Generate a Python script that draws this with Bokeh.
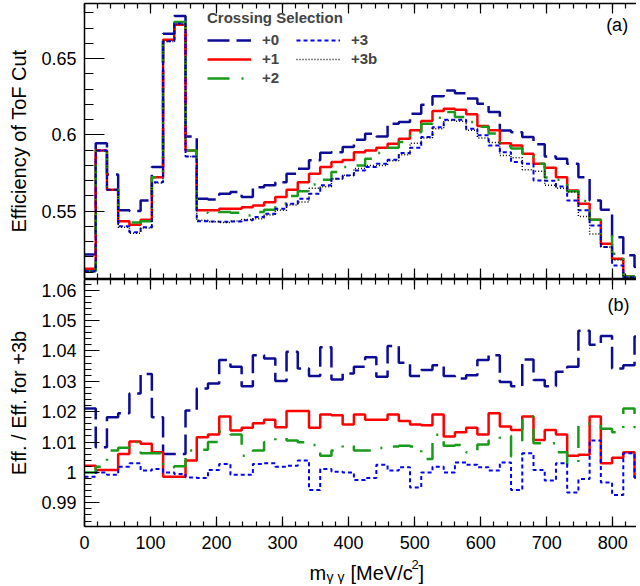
from bokeh.plotting import figure
from bokeh.models import (Range1d, FixedTicker, CustomJSTickFormatter, Legend,
                          LegendItem, Label, LinearAxis)
from bokeh.layouts import column
from bokeh.embed import file_html
from bokeh.resources import INLINE

# ---------------- data ----------------
BIN_WIDTH = 17          # MeV/c^2
N_BINS = 50
bin_edges = [BIN_WIDTH * i for i in range(N_BINS + 1)]

series_names = ["+0", "+1", "+2", "+3", "+3b"]

eff_p0 = [0.5216, 0.5946, 0.5741, 0.5505, 0.5500, 0.5570, 0.5789, 0.6664, 0.6780, 0.5990,
          0.5581, 0.5577, 0.5614, 0.5625, 0.5592, 0.5657, 0.5669, 0.5690, 0.5745, 0.5778,
          0.5833, 0.5883, 0.5887, 0.5920, 0.5968, 0.6008, 0.5990, 0.6073, 0.6084, 0.6139,
          0.6198, 0.6253, 0.6292, 0.6274, 0.6238, 0.6205, 0.6150, 0.6029, 0.6018, 0.5986,
          0.5938, 0.5859, 0.5844, 0.5811, 0.5723, 0.5570, 0.5509, 0.5329, 0.5210, 0.5133]
eff_p1 = [0.5122, 0.5898, 0.5640, 0.5434, 0.5411, 0.5444, 0.5723, 0.6625, 0.6723, 0.5898,
          0.5505, 0.5505, 0.5516, 0.5516, 0.5526, 0.5537, 0.5559, 0.5592, 0.5640, 0.5690,
          0.5745, 0.5790, 0.5822, 0.5835, 0.5887, 0.5898, 0.5916, 0.5942, 0.5975, 0.6030,
          0.6091, 0.6156, 0.6172, 0.6165, 0.6135, 0.6058, 0.6030, 0.5946, 0.5931, 0.5877,
          0.5811, 0.5785, 0.5723, 0.5636, 0.5549, 0.5444, 0.5286, 0.5188, 0.5071, 0.5050]
eff_p2 = [0.5106, 0.5898, 0.5640, 0.5428, 0.5425, 0.5434, 0.5723, 0.6615, 0.6740, 0.5898,
          0.5490, 0.5483, 0.5494, 0.5490, 0.5472, 0.5494, 0.5509, 0.5550, 0.5600, 0.5630,
          0.5675, 0.5706, 0.5756, 0.5789, 0.5800, 0.5844, 0.5881, 0.5916, 0.5953, 0.6018,
          0.6073, 0.6113, 0.6150, 0.6117, 0.6084, 0.6054, 0.6010, 0.5925, 0.5910, 0.5877,
          0.5811, 0.5720, 0.5706, 0.5630, 0.5566, 0.5444, 0.5352, 0.5220, 0.5071, 0.5060]
eff_p3 = [0.5106, 0.5898, 0.5640, 0.5400, 0.5362, 0.5395, 0.5690, 0.6615, 0.6730, 0.5859,
          0.5434, 0.5432, 0.5430, 0.5432, 0.5440, 0.5461, 0.5483, 0.5516, 0.5549, 0.5581,
          0.5614, 0.5669, 0.5713, 0.5734, 0.5767, 0.5789, 0.5811, 0.5837, 0.5881, 0.5916,
          0.5986, 0.6051, 0.6100, 0.6100, 0.6041, 0.5997, 0.5930, 0.5887, 0.5822, 0.5810,
          0.5701, 0.5700, 0.5662, 0.5570, 0.5505, 0.5406, 0.5264, 0.5144, 0.5067, 0.5060]
eff_p3b = [0.5106, 0.5898, 0.5640, 0.5395, 0.5355, 0.5390, 0.5685, 0.6612, 0.6728, 0.5859,
           0.5440, 0.5430, 0.5425, 0.5435, 0.5445, 0.5450, 0.5475, 0.5505, 0.5540, 0.5560,
           0.5650, 0.5660, 0.5710, 0.5735, 0.5780, 0.5800, 0.5800, 0.5830, 0.5870, 0.5945,
           0.5980, 0.6040, 0.6095, 0.6090, 0.6030, 0.5980, 0.5950, 0.5865, 0.5850, 0.5772,
           0.5762, 0.5669, 0.5650, 0.5625, 0.5465, 0.5350, 0.5264, 0.5180, 0.5067, 0.5060]

ratio_p0 = [1.0210, 1.0083, 1.0182, 1.0195, 1.0260, 1.0324, 1.0182, 1.0061, 1.0061, 1.0204,
            1.0276, 1.0293, 1.0370, 1.0348, 1.0284, 1.0386, 1.0375, 1.0301, 1.0397, 1.0342,
            1.0317, 1.0412, 1.0306, 1.0326, 1.0348, 1.0379, 1.0315, 1.0416, 1.0361, 1.0317,
            1.0337, 1.0353, 1.0317, 1.0309, 1.0320, 1.0370, 1.0386, 1.0298, 1.0284, 1.0372,
            1.0304, 1.0284, 1.0331, 1.0348, 1.0466, 1.0420, 1.0449, 1.0342, 1.0353, 1.0447]
ratio_p1 = [1.0022, 1.0008, 1.0008, 1.0061, 1.0102, 1.0094, 1.0066, 0.9986, 0.9986, 1.0039,
            1.0116, 1.0125, 1.0184, 1.0138, 1.0147, 1.0162, 1.0173, 1.0149, 1.0202, 1.0202,
            1.0147, 1.0191, 1.0188, 1.0158, 1.0191, 1.0173, 1.0173, 1.0191, 1.0169, 1.0158,
            1.0155, 1.0191, 1.0118, 1.0132, 1.0147, 1.0125, 1.0195, 1.0151, 1.0140, 1.0184,
            1.0107, 1.0140, 1.0125, 1.0055, 1.0058, 1.0184, 1.0030, 1.0048, 1.0066, 0.9983]
ratio_p2 = [1.0000, 1.0019, 1.0072, 1.0081, 1.0100, 1.0063, 1.0063, 1.0017, 1.0020, 1.0072,
            1.0075, 1.0100, 1.0135, 1.0125, 1.0055, 1.0072, 1.0100, 1.0114, 1.0105, 1.0099,
            1.0090, 1.0055, 1.0072, 1.0090, 1.0072, 1.0072, 1.0080, 1.0085, 1.0088, 1.0085,
            1.0044, 1.0124, 1.0088, 1.0090, 1.0066, 1.0092, 1.0105, 1.0121, 1.0052, 1.0184,
            1.0096, 1.0096, 1.0066, 1.0028, 1.0160, 1.0160, 1.0144, 1.0132, 1.0210, 1.0149]
ratio_p3 = [0.9986, 1.0000, 0.9992, 1.0019, 1.0030, 1.0006, 1.0011, 1.0000, 0.9995, 0.9983,
            0.9982, 1.0008, 1.0028, 0.9992, 0.9992, 1.0028, 1.0030, 1.0019, 1.0022, 1.0039,
            0.9942, 1.0011, 1.0002, 1.0000, 0.9975, 0.9982, 1.0025, 1.0006, 1.0017, 0.9950,
            1.0000, 1.0019, 1.0000, 1.0033, 1.0025, 1.0017, 1.0006, 1.0033, 0.9942, 1.0063,
            1.0008, 0.9973, 1.0030, 0.9934, 0.9978, 1.0105, 0.9967, 0.9926, 1.0063, 0.9983]

x_major_ticks = [0, 100, 200, 300, 400, 500, 600, 700, 800]
top_y_ticks = [0.55, 0.60, 0.65]
bottom_y_ticks = [0.99, 1.00, 1.01, 1.02, 1.03, 1.04, 1.05, 1.06]

# ---------------- styles ----------------
FONT = "Liberation Sans"
FIG_W = 636
LEFT = 84
X_END = 836
styles = {
    "+0":  dict(line_color="#0c0c96", line_width=2.5, line_dash="22 7"),
    "+1":  dict(line_color="#ff0000", line_width=2.5, line_dash="solid"),
    "+2":  dict(line_color="#1a9a1a", line_width=2.5, line_dash="22 12 2 12"),
    "+3":  dict(line_color="#0000ff", line_width=2.0, line_dash="4 3"),
    "+3b": dict(line_color="#000000", line_width=1.5, line_dash="1 2"),
}

fmt = CustomJSTickFormatter(code="return (Math.round(tick*1000)/1000).toString();")
blank_fmt = CustomJSTickFormatter(code="return '';")


def minor_list(lo, hi, step):
    n = int(round((hi - lo) / step))
    return [round(lo + k * step, 6) for k in range(n + 1)]


def frame_top_line(p):
    ax = LinearAxis(ticker=FixedTicker(ticks=[]), formatter=blank_fmt,
                    axis_line_color="black", axis_line_width=1.5,
                    major_tick_line_color=None, minor_tick_line_color=None,
                    major_label_standoff=0, major_label_text_font_size="1px")
    p.add_layout(ax, "above")


def style_axes(p, y_major, y_minor, y_tick_len, show_x_labels):
    p.xaxis.ticker = FixedTicker(ticks=x_major_ticks, minor_ticks=minor_list(0, 820, 20))
    p.yaxis.ticker = FixedTicker(ticks=y_major, minor_ticks=y_minor)
    p.yaxis.formatter = fmt
    for ax in (p.xaxis, p.yaxis):
        ax.axis_line_color = "black"
        ax.axis_line_width = 1.5
        ax.major_tick_line_color = "black"
        ax.minor_tick_line_color = "black"
        ax.major_tick_line_width = 1.2
        ax.minor_tick_line_width = 1.2
        ax.major_tick_out = 0
        ax.minor_tick_out = 0
        ax.major_label_text_font = FONT
        ax.major_label_text_color = "black"
        ax.axis_label_text_font = FONT
        ax.axis_label_text_font_style = "normal"
        ax.axis_label_text_color = "black"
    p.yaxis.major_tick_in = y_tick_len[0]
    p.yaxis.minor_tick_in = y_tick_len[1]
    p.yaxis.major_label_text_font_size = "18px"
    p.yaxis.major_label_standoff = 8
    p.yaxis.axis_label_text_font_size = "20px"
    p.yaxis.axis_label_standoff = 8
    p.xaxis.major_tick_in = 10
    p.xaxis.minor_tick_in = 5
    if show_x_labels:
        p.xaxis.major_label_text_font_size = "18px"
        p.xaxis.major_label_standoff = 9
    else:
        p.xaxis.formatter = blank_fmt
        p.xaxis.major_label_text_font_size = "1px"
        p.xaxis.major_label_standoff = 0


def hist_line(p, values, name):
    return p.step(x=bin_edges, y=values + [values[-1]], mode="after", **styles[name])


# ---------------- top panel ----------------
top = figure(width=FIG_W, height=279, output_backend="svg", toolbar_location=None,
             x_range=Range1d(0, X_END), y_range=Range1d(0.5058, 0.6862),
             min_border_left=LEFT, min_border_right=0, min_border_top=3, min_border_bottom=1,
             background_fill_color="white", border_fill_color="white")
top.grid.visible = False
top.outline_line_color = None
frame_top_line(top)
style_axes(top, top_y_ticks, minor_list(0.51, 0.68, 0.01), (20, 9), False)
top.yaxis.axis_label = "Efficiency of ToF Cut"

eff_series = [eff_p0, eff_p1, eff_p2, eff_p3, eff_p3b]
top_renderers = {}
for name, vals in zip(series_names, eff_series):
    top_renderers[name] = hist_line(top, vals, name)

legend = Legend(items=[LegendItem(label=n, renderers=[top_renderers[n]]) for n in series_names],
                location=(121, 190), orientation="vertical", nrows=3,
                title="Crossing Selection", title_text_font=FONT,
                title_text_font_size="15px", title_text_font_style="bold",
                title_standoff=5,
                label_text_font=FONT, label_text_font_size="15px",
                label_text_font_style="bold", label_width=32, label_standoff=11,
                glyph_width=44, glyph_height=16, spacing=2, padding=2, margin=0,
                border_line_alpha=0, background_fill_alpha=0)
top.add_layout(legend)
top.add_layout(Label(x=790, y=0.6718, text="(a)", text_font=FONT, text_font_size="18px",
                     text_baseline="middle", text_color="black"))

# ---------------- bottom panel ----------------
bot = figure(width=FIG_W, height=277, output_backend="svg", toolbar_location=None,
             x_range=top.x_range, y_range=Range1d(0.9822, 1.0635),
             min_border_left=LEFT, min_border_right=0, min_border_top=0, min_border_bottom=30,
             background_fill_color="white", border_fill_color="white")
bot.grid.visible = False
bot.outline_line_color = None
frame_top_line(bot)
style_axes(bot, bottom_y_ticks, minor_list(0.984, 1.062, 0.002), (15, 7), True)
bot.yaxis.axis_label = "Eff. / Eff. for +3b"

ratio_series = [ratio_p0, ratio_p1, ratio_p2, ratio_p3]
for name, vals in zip(series_names[:4], ratio_series):
    hist_line(bot, vals, name)

bot.add_layout(Label(x=792, y=1.0552, text="(b)", text_font=FONT, text_font_size="18px",
                     text_baseline="middle", text_color="black"))

# ---------------- x-axis title strip: m_{γγ} [MeV/c^2] ----------------
xt = figure(width=FIG_W, height=28, output_backend="svg", toolbar_location=None,
            x_range=Range1d(0, 1), y_range=Range1d(0, 1),
            min_border_left=LEFT, min_border_right=0, min_border_top=0, min_border_bottom=0,
            background_fill_color="white", border_fill_color="white")
xt.axis.visible = False
xt.grid.visible = False
xt.outline_line_color = None
xlab_parts = [
    ("m", 225, 12, "20px"),
    ("γ γ", 242, 8, "14px"),
    ("[MeV/c", 266, 12, "20px"),
    ("2", 327, 20, "13px"),
    ("]", 334, 12, "20px"),
]
for txt, sx, sy, fs in xlab_parts:
    xt.add_layout(Label(x=sx, y=sy, x_units="screen", y_units="screen", text=txt,
                        text_font=FONT, text_font_size=fs, text_baseline="alphabetic",
                        text_color="black"))

layout = column(top, bot, xt, spacing=0)
open("out.html", "w").write(file_html(layout, INLINE))
